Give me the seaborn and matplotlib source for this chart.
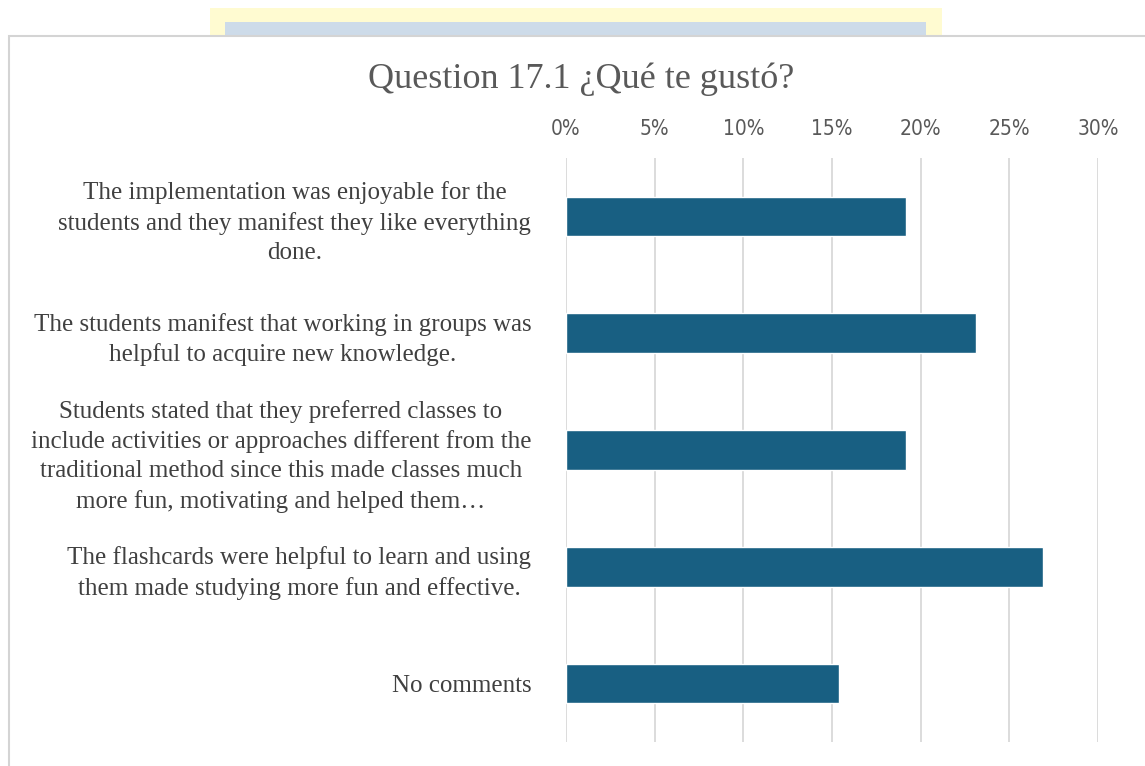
import matplotlib
matplotlib.use("Agg")
import matplotlib.pyplot as plt
from matplotlib.patches import Rectangle
from matplotlib.ticker import PercentFormatter
import seaborn as sns
import pandas as pd

categories = [
    "The implementation was enjoyable for the\nstudents and they manifest they like everything\ndone.",
    "The students manifest that working in groups was\nhelpful to acquire new knowledge.",
    "Students stated that they preferred classes to\ninclude activities or approaches different from the\ntraditional method since this made classes much\nmore fun, motivating and helped them\u2026",
    "The flashcards were helpful to learn and using\nthem made studying more fun and effective.",
    "No comments",
]
values = [19.2, 23.1, 19.2, 26.9, 15.4]
tick_values = [0, 5, 10, 15, 20, 25, 30]
title = "Question 17.1 \u00bfQu\u00e9 te gust\u00f3?"

df = pd.DataFrame({"category": categories, "pct": values})

sns.set_theme(style="white")
plt.rcParams["font.family"] = ["Liberation Serif", "DejaVu Serif"]

W, H = 1145, 766
fig = plt.figure(figsize=(W / 100, H / 100), dpi=100)
fig.patch.set_facecolor("white")

# banner behind chart area
fig.patches.append(Rectangle((210 / W, 1 - 37 / H), (942 - 210) / W, (37 - 8) / H,
                             transform=fig.transFigure, facecolor="#fffbd1", edgecolor="none", zorder=0))
fig.patches.append(Rectangle((225 / W, 1 - 37 / H), (926 - 225) / W, (37 - 22) / H,
                             transform=fig.transFigure, facecolor="#cddbe9", edgecolor="none", zorder=1))
# chart area
fig.patches.append(Rectangle((8.5 / W, -0.05), 1.1, 1.05 - 36 / H,
                             transform=fig.transFigure, facecolor="white", edgecolor="#d4d4d4",
                             linewidth=1.5, zorder=2))

ax = fig.add_axes([566 / W, 1 - 742 / H, (1098 - 566) / W, (742 - 158) / H], zorder=3)
ax.patch.set_alpha(0)

sns.barplot(data=df, x="pct", y="category", orient="h", color="#185f82",
            width=0.34, saturation=1, ax=ax)

ax.set_xlim(0, 30)
ax.set_ylim(4.5, -0.5)
ax.set_xticks(tick_values)
ax.xaxis.set_major_formatter(PercentFormatter(decimals=0))
ax.xaxis.tick_top()
ax.grid(axis="x", color="#d9d9d9", linewidth=1.3)
ax.set_axisbelow(True)
for s in ax.spines.values():
    s.set_visible(False)
ax.set_xlabel("")
ax.set_ylabel("")
ax.tick_params(axis="x", length=0, pad=14, labelsize=15, labelcolor="#595959")
ax.tick_params(axis="y", length=0, pad=25, labelsize=18, labelcolor="#404040")
for lab in ax.get_xticklabels():
    lab.set_fontfamily(["DejaVu Sans"])
    lab.set_fontstretch("condensed")
for lab in ax.get_yticklabels():
    lab.set_multialignment("center")
    lab.set_linespacing(1.42)

fig.text(581 / W, 1 - 79 / H, title, ha="center", va="center", fontsize=26,
         color="#595959", zorder=4)

fig.savefig("out.png", dpi=100)
